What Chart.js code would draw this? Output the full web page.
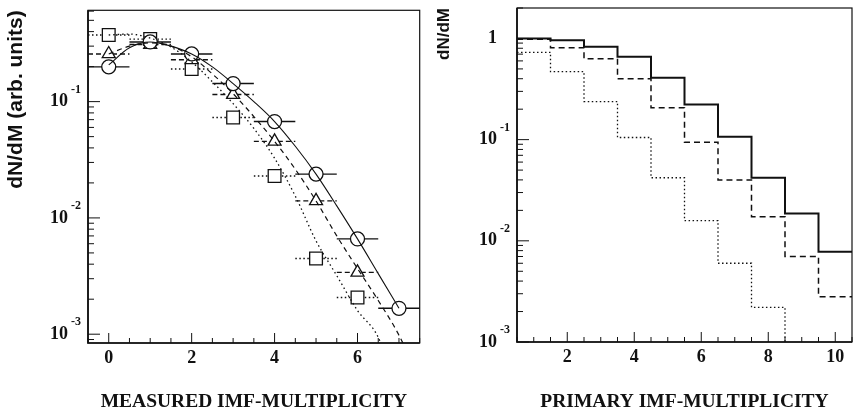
<!DOCTYPE html>
<html>
<head>
<meta charset="utf-8">
<script src="https://cdn.jsdelivr.net/npm/chart.js@4.4.0/dist/chart.umd.min.js"></script>
<style>
  html, body { margin: 0; padding: 0; background: #fff; }
  #wrap { position: relative; width: 856px; height: 415px; }
  .box { position: absolute; top: 0; }
  #leftBox { left: 0; }
  #rightBox { left: 430px; }
</style>
</head>
<body>
<div id="wrap">
  <div class="box" id="leftBox"><canvas id="measuredChart" width="430" height="415"></canvas></div>
  <div class="box" id="rightBox"><canvas id="primaryChart" width="426" height="415"></canvas></div>
</div>
<script>
// left panel: measured multiplicity, three data sets with fits
const multX = [0, 1, 2, 3, 4, 5, 6, 7];
const circleY = [0.199, 0.326, 0.257, 0.143, 0.0674, 0.0238, 0.0066, 0.00167];
const triangleY = [0.257, 0.31, 0.229, 0.115, 0.0455, 0.014, 0.0034, null];
const squareY = [0.374, 0.345, 0.191, 0.073, 0.0229, 0.00447, 0.00207, null];
const errX = 0.5;

const fitX = [0, 0.5, 1, 1.5, 2, 2.5, 3, 3.5, 4, 4.5, 5, 5.5, 6, 6.5, 7, 7.5];
const solidFit = [0.207, 0.29, 0.326, 0.30, 0.257, 0.199, 0.143, 0.1, 0.0674, 0.0413, 0.0238, 0.0127, 0.0066, 0.00332, 0.00167, null];
const dashFit = [0.257, 0.30, 0.32, 0.30, 0.243, 0.173, 0.117, 0.0744, 0.0455, 0.0262, 0.014, 0.0070, 0.00367, 0.00195, 0.00098, 0.0004];
const dotFit = [0.374, 0.381, 0.352, 0.295, 0.220, 0.148, 0.096, 0.0588, 0.0326, 0.0154, 0.00635, 0.00319, 0.0016, 0.00094, 0.0003, null];

// right panel: primary multiplicity histograms
const binCenters = [1, 2, 3, 4, 5, 6, 7, 8, 9, 10];
const solidHist = [1.0, 0.96, 0.83, 0.66, 0.41, 0.222, 0.107, 0.042, 0.0186, 0.0078];
const dashHist = [0.98, 0.81, 0.63, 0.40, 0.207, 0.094, 0.040, 0.0173, 0.0070, 0.0028];
const dotHist = [0.73, 0.47, 0.238, 0.105, 0.042, 0.0158, 0.006, 0.0022, 0.0005, 0.0002];

// tick labels
const leftXTicks = [0, 2, 4, 6];
const rightXTicks = [2, 4, 6, 8, 10];
const leftYDecades = [-3, -2, -1];
const rightYDecades = [-3, -2, -1, 0];

const INK = '#111';
Chart.defaults.font.family = 'Liberation Serif';
Chart.defaults.color = INK;

// box frame, inward ticks and the 10^n labels
const frameTicks = {
    id: 'frameTicks',
    afterDraw(chart, args, opts) {
        const { ctx, chartArea: a, scales: { x, y } } = chart;
        ctx.save();
        ctx.strokeStyle = INK;
        ctx.lineWidth = 1.2;
        ctx.strokeRect(a.left, a.top, a.right - a.left, a.bottom - a.top);
        ctx.lineWidth = 1.7;
        ctx.beginPath();
        ctx.moveTo(a.left, a.top);
        ctx.lineTo(a.left, a.bottom);
        ctx.lineTo(a.right, a.bottom);
        ctx.stroke();

        ctx.lineWidth = 1;
        ctx.fillStyle = INK;
        ctx.textAlign = 'center';
        ctx.textBaseline = 'middle';
        ctx.font = 'bold 18px "Liberation Serif"';
        for (let v = Math.ceil(x.min * 2) / 2; v <= x.max + 1e-9; v += 0.5) {
            const px = x.getPixelForValue(v);
            const major = opts.xLabels.includes(v);
            ctx.beginPath();
            ctx.moveTo(px, a.bottom);
            ctx.lineTo(px, a.bottom - (major ? 10 : 5));
            ctx.stroke();
            if (major) ctx.fillText(String(v), px, a.bottom + 15);
        }

        const d0 = Math.floor(Math.log10(y.min));
        const d1 = Math.ceil(Math.log10(y.max));
        for (let d = d0; d <= d1; d++) {
            for (let m = 1; m <= 9; m++) {
                const v = m * Math.pow(10, d);
                if (v < y.min || v > y.max) continue;
                const py = y.getPixelForValue(v);
                ctx.beginPath();
                ctx.moveTo(a.left, py);
                ctx.lineTo(a.left + (m === 1 ? 12 : 6), py);
                ctx.stroke();
            }
        }
        opts.yDecades.forEach(d => {
            const py = y.getPixelForValue(Math.pow(10, d));
            ctx.textAlign = 'right';
            ctx.font = 'bold 18px "Liberation Serif"';
            if (d === 0) {
                ctx.fillText('1', a.left - 20, py);
                return;
            }
            ctx.fillText('10', a.left - 20, py);
            ctx.textAlign = 'left';
            ctx.font = 'bold 12px "Liberation Serif"';
            ctx.fillText(String(d), a.left - 17, py - 12);
        });
        ctx.restore();
    }
};

// horizontal error bars, drawn under the open markers
const errorBars = {
    id: 'errorBars',
    beforeDatasetsDraw(chart) {
        const { ctx, scales: { x } } = chart;
        chart.data.datasets.forEach((ds, i) => {
            if (ds.xErr === undefined) return;
            const meta = chart.getDatasetMeta(i);
            ctx.save();
            ctx.strokeStyle = INK;
            ctx.lineWidth = 1.4;
            ctx.setLineDash(ds.borderDash || []);
            meta.data.forEach((pt, j) => {
                const d = ds.data[j];
                if (d.y == null) return;
                ctx.beginPath();
                ctx.moveTo(x.getPixelForValue(d.x - ds.xErr), pt.y);
                ctx.lineTo(x.getPixelForValue(d.x + ds.xErr), pt.y);
                ctx.stroke();
            });
            ctx.restore();
        });
    }
};

const pts = (xs, ys) => xs.map((x, i) => ({ x: x, y: ys[i] }));

function marker(ys, style, radius, dash) {
    return {
        data: pts(multX, ys),
        pointStyle: style,
        pointRadius: radius,
        pointBackgroundColor: '#fff',
        pointBorderColor: INK,
        pointBorderWidth: 1.3,
        borderDash: dash,
        xErr: errX,
        showLine: false,
        order: 1
    };
}

function fitLine(ys, dash, width) {
    return {
        type: 'line',
        data: pts(fitX, ys),
        borderColor: INK,
        borderWidth: width,
        borderDash: dash,
        pointRadius: 0,
        fill: false,
        cubicInterpolationMode: 'monotone',
        order: 0
    };
}

function histLine(values, dash, width) {
    const data = binCenters.map((c, i) => ({ x: c - 0.5, y: values[i] }));
    data.push({ x: binCenters[binCenters.length - 1] + 0.5, y: values[values.length - 1] });
    return {
        type: 'line',
        data: data,
        stepped: true,
        borderColor: INK,
        borderWidth: width,
        borderDash: dash,
        pointRadius: 0,
        fill: false
    };
}

const hidden = { display: false };
const titleFont = { family: 'Liberation Serif', size: 19.5, weight: 'bold' };

new Chart(document.getElementById('measuredChart'), {
    type: 'scatter',
    data: {
        datasets: [
            fitLine(solidFit, [], 1.1),
            fitLine(dashFit, [5, 4], 1.2),
            fitLine(dotFit, [1.5, 3], 1.3),
            marker(circleY, 'circle', 7, []),
            marker(triangleY, 'triangle', 7.5, [5, 3]),
            marker(squareY, 'rect', 9, [1.5, 2.5])
        ]
    },
    options: {
        responsive: false,
        animation: false,
        layout: { padding: { top: 8, right: 6, left: 0, bottom: 0 } },
        plugins: {
            legend: hidden,
            tooltip: { enabled: false },
            frameTicks: { xLabels: leftXTicks, yDecades: leftYDecades }
        },
        scales: {
            x: {
                type: 'linear',
                min: -0.5,
                max: 7.5,
                grid: hidden,
                border: hidden,
                ticks: hidden,
                title: { display: true, text: 'MEASURED IMF-MULTIPLICITY', font: titleFont, padding: { top: 0, bottom: 1 } },
                afterFit: s => { s.height = 72; }
            },
            y: {
                type: 'logarithmic',
                min: 8.4e-4,
                max: 0.61,
                bounds: 'data',
                grid: hidden,
                border: hidden,
                ticks: hidden,
                title: {
                    display: true,
                    text: 'dN/dM (arb. units)',
                    align: 'end',
                    font: { family: 'Liberation Sans', size: 21, weight: 'bold' },
                    padding: { top: 4, bottom: 0 }
                },
                afterFit: s => { s.width = 88; }
            }
        }
    },
    plugins: [frameTicks, errorBars]
});

new Chart(document.getElementById('primaryChart'), {
    type: 'line',
    data: {
        datasets: [
            histLine(solidHist, [], 2),
            histLine(dashHist, [6, 4], 1.5),
            histLine(dotHist, [1.5, 2.5], 1.3)
        ]
    },
    options: {
        responsive: false,
        animation: false,
        layout: { padding: { top: 8, right: 4, left: 0, bottom: 0 } },
        plugins: {
            legend: hidden,
            tooltip: { enabled: false },
            frameTicks: { xLabels: rightXTicks, yDecades: rightYDecades }
        },
        scales: {
            x: {
                type: 'linear',
                min: 0.5,
                max: 10.5,
                grid: hidden,
                border: hidden,
                ticks: hidden,
                title: { display: true, text: 'PRIMARY IMF-MULTIPLICITY', font: titleFont, padding: { top: 0, bottom: 1 } },
                afterFit: s => { s.height = 73; }
            },
            y: {
                type: 'logarithmic',
                min: 1e-3,
                max: 2,
                bounds: 'data',
                grid: hidden,
                border: hidden,
                ticks: hidden,
                title: {
                    display: true,
                    text: 'dN/dM',
                    align: 'end',
                    font: { family: 'Liberation Sans', size: 17, weight: 'bold' },
                    padding: { top: 4, bottom: 0 }
                },
                afterFit: s => { s.width = 87; }
            }
        }
    },
    plugins: [frameTicks]
});
</script>
</body>
</html>
